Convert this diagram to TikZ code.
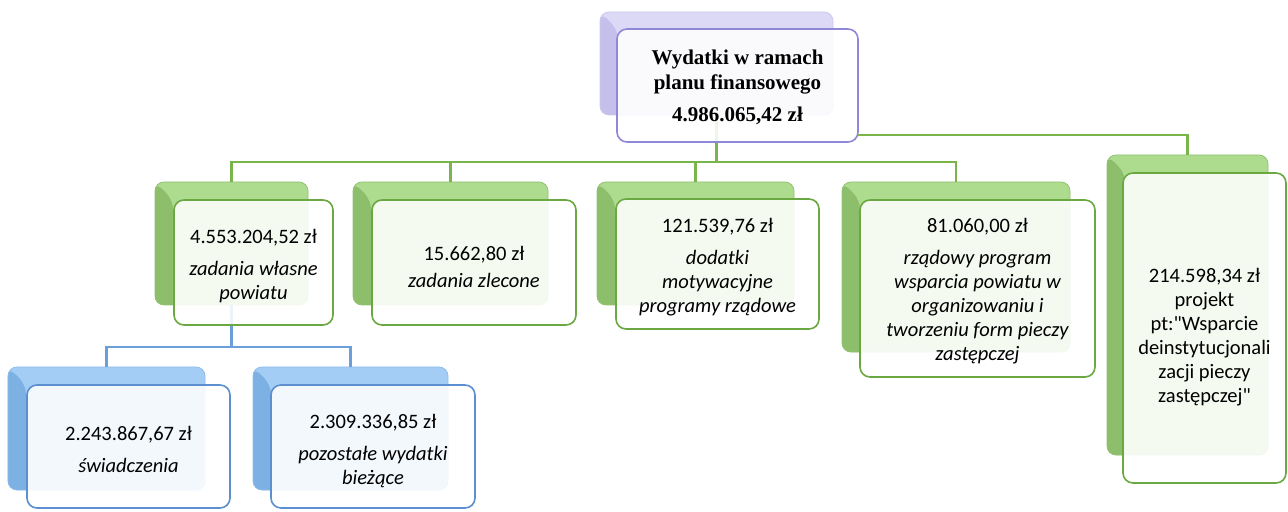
\documentclass[tikz,border=0pt]{standalone}
\usepackage{fontspec}
\newfontfamily\calf{Carlito}
\newfontfamily\timesf{Liberation Serif}
\usetikzlibrary{calc}
\definecolor{gLight}{HTML}{ADDC8F}
\definecolor{gDark}{HTML}{8CBE6B}
\definecolor{gEdge}{HTML}{93C274}
\definecolor{gBorder}{HTML}{6AA842}
\definecolor{gLine}{HTML}{79B54A}
\definecolor{bLight}{HTML}{A3CDF5}
\definecolor{bDark}{HTML}{7DB0E3}
\definecolor{bEdge}{HTML}{8DBDEB}
\definecolor{bBorder}{HTML}{5B8FD0}
\definecolor{bLine}{HTML}{6A9FDC}
\definecolor{pLight}{HTML}{DCD9F6}
\definecolor{pDark}{HTML}{C4C0EB}
\definecolor{pEdge}{HTML}{CBC7EE}
\definecolor{pBorder}{HTML}{8F88D8}
\begin{document}
\begin{tikzpicture}[x=1bp,y=-1bp,
  every node/.style={inner sep=0pt, outer sep=0pt},
  backbox/.style n args={3}{rounded corners=9bp, fill=#1, draw=#3, line width=0.8bp,
    path picture={\fill[#2] (path picture bounding box.north west) -- ++(18,18) -- ++(0,400) -- ++(-40,0) -- cycle;}},
  gback/.style={backbox={gLight}{gDark}{gEdge}},
  bback/.style={backbox={bLight}{bDark}{bEdge}},
  pback/.style={backbox={pLight}{pDark}{pEdge}},
  frontbox/.style={rounded corners=10bp, line width=1.6bp, fill=white, fill opacity=0.88},
  gfront/.style={frontbox, draw=gBorder},
  bfront/.style={frontbox, draw=bBorder},
  pfront/.style={frontbox, draw=pBorder},
  txt/.style={align=center, font=\fontsize{20.5bp}{24bp}\calf},
  ttxt/.style={align=center, font=\fontsize{21bp}{25bp}\timesf\bfseries},
  gl/.style={draw=gLine, line width=2.2bp},
  bl/.style={draw=bLine, line width=2.2bp}
]
\useasboundingbox (0,0) rectangle (1288,512);
% back boxes
\node[pback, minimum width=233bp, minimum height=103bp] (topb) at (716.5,63.5) {};
\node[gback, minimum width=153bp, minimum height=123bp] (g1b) at (231.5,243.5) {};
\node[gback, minimum width=195bp, minimum height=123bp] (g2b) at (450.5,243.5) {};
\node[gback, minimum width=197bp, minimum height=123bp] (g3b) at (695.5,243.5) {};
\node[gback, minimum width=228bp, minimum height=170bp] (g4b) at (956,267) {};
\node[gback, minimum width=161bp, minimum height=300bp] (g5b) at (1187.5,305) {};
\node[bback, minimum width=197bp, minimum height=123bp] (b1b) at (106.5,428.5) {};
\node[bback, minimum width=195bp, minimum height=123bp] (b2b) at (350.5,428.5) {};
% connectors
\draw[gl] (topb.south) -- ++(0,47) coordinate (hub);
\draw[gl] (hub) -| (g1b.north);
\draw[gl] (hub) -| (g2b.north);
\draw[gl] (hub) -| (g3b.north);
\draw[gl] (hub) -| (g4b.north);
\draw[bl] (g1b.south) -- ++(0,42) coordinate (bhub);
\draw[bl] (bhub) -| (b1b.north);
\draw[bl] (bhub) -| (b2b.north);
% front boxes
\node[pfront, minimum width=241bp, minimum height=113bp] (topf) at (737.5,85.5) {};
\draw[gl] ($(topf.south east)+(0,-7)$) -| (g5b.north);
\node[gfront, minimum width=159bp, minimum height=125bp] (g1f) at (253.5,262.5) {};
\node[gfront, minimum width=204bp, minimum height=125bp] (g2f) at (474,262.5) {};
\node[gfront, minimum width=203bp, minimum height=130bp] (g3f) at (717.5,264) {};
\node[gfront, minimum width=235bp, minimum height=177bp] (g4f) at (977.5,288.5) {};
\node[gfront, minimum width=163bp, minimum height=310bp] (g5f) at (1204.5,328) {};
\node[bfront, minimum width=203bp, minimum height=123bp] (b1f) at (128.5,446.5) {};
\node[bfront, minimum width=204bp, minimum height=123bp] (b2f) at (373,446.5) {};
% texts
\node[ttxt] (topt) at ($(topf.center)+(0,2)$)
  {Wydatki w ramach\\planu finansowego\\[7bp]4.986.065,42 zł};
\node[txt] (g1t) at ($(g1f.center)+(0,4)$)
  {4.553.204,52 zł\\[8bp]\itshape zadania własne\\\itshape powiatu};
\node[txt] (g2t) at ($(g2f.center)+(0,4)$)
  {15.662,80 zł\\[3bp]\itshape zadania zlecone};
\node[txt] (g3t) at ($(g3f.center)+(0,3)$)
  {121.539,76 zł\\[8bp]\itshape dodatki\\\itshape motywacyjne\\\itshape programy rządowe};
\node[txt] (g4t) at ($(g4f.center)+(0,3)$)
  {81.060,00 zł\\[8bp]\itshape rządowy program\\\itshape wsparcia powiatu w\\\itshape organizowaniu i\\\itshape tworzeniu form pieczy\\\itshape zastępczej};
\node[txt] (g5t) at ($(g5f.center)+(0,9)$)
  {214.598,34 zł\\projekt\\pt:"Wsparcie\\deinstytucjonali\\zacji pieczy\\zastępczej"};
\node[txt] (b1t) at ($(b1f.center)+(0,3)$)
  {2.243.867,67 zł\\[8bp]\itshape świadczenia};
\node[txt] (b2t) at ($(b2f.center)+(0,5)$)
  {2.309.336,85 zł\\[8bp]\itshape pozostałe wydatki\\\itshape bieżące};
\end{tikzpicture}
\end{document}
